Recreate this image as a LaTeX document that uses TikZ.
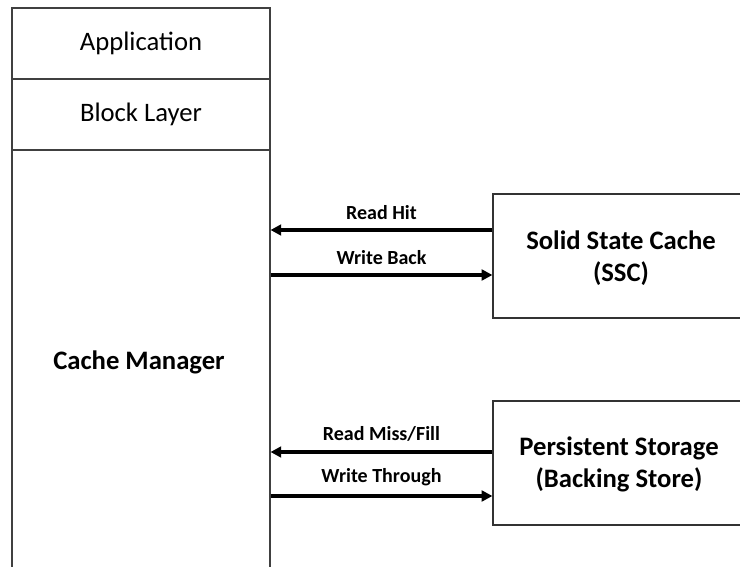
\documentclass[tikz,border=0pt]{standalone}
\usepackage{fontspec}
\setmainfont{Carlito}
\usetikzlibrary{positioning,arrows.meta}

\begin{document}
\begin{tikzpicture}[
    x=0.75pt, y=-0.75pt,
    layer/.style={rectangle, draw=black!75, line width=0.8pt, minimum width=258*0.75pt, inner sep=0pt, font=\fontsize{20}{24}\selectfont},
    device/.style={rectangle, draw=black!80, line width=0.9pt, minimum width=300*0.75pt, minimum height=124*0.75pt, inner sep=0pt},
    title/.style={align=center, font=\bfseries\fontsize{20}{24}\selectfont},
    flow/.style={-{Triangle[length=8pt,width=8pt]}, line width=2.6pt},
    label/.style={font=\bfseries\fontsize{15}{18}\selectfont, above=3pt}
]
\useasboundingbox (0,0) rectangle (740,567);

% Layers on the left
\node[layer, minimum height=71*0.75pt] (app) at (141,43.5) {\raisebox{-1.5pt}{Application}};
\node[layer, minimum height=71*0.75pt] (block) at (141,114.5) {\raisebox{-1pt}{Block Layer}};
\node[layer, minimum height=430*0.75pt] (cm) at (141,365) {};
\node[title] (cmtext) at (139,362) {Cache Manager};

% Devices on the right
\node[device] (ssc) at (643,256) {};
\node[title] (ssctext) at (621,258) {Solid State Cache\\(SSC)};
\node[device] (ps) at (643,463) {};
\node[title] (pstext) at (619,464) {Persistent Storage\\(Backing Store)};

% Flows
\draw[flow] (ssc.west |- 0,230) -- node[label] {Read Hit} (cm.east |- 0,230);
\draw[flow] (cm.east |- 0,275) -- node[label] {Write Back} (ssc.west |- 0,275);
\draw[flow] (ps.west |- 0,452) -- node[label] {Read Miss/Fill} (cm.east |- 0,452);
\draw[flow] (cm.east |- 0,496) -- node[label] {Write Through} (ps.west |- 0,496);

\end{tikzpicture}
\end{document}
